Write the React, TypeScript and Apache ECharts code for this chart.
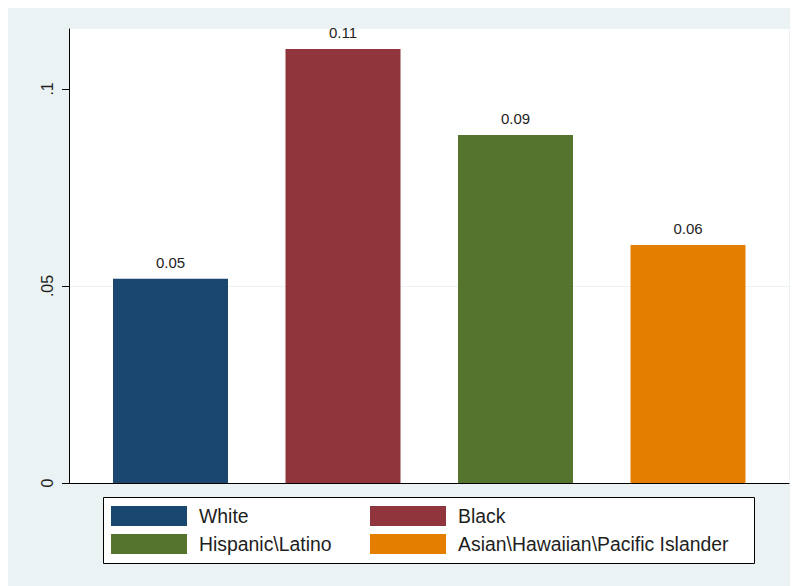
import React, { useEffect, useRef } from "react";
import * as echarts from "echarts";

const categories = ["White", "Black", "Hispanic\\Latino", "Asian\\Hawaiian\\Pacific Islander"];
const values = [0.0518, 0.1101, 0.0883, 0.0604];
const colors = ["#1a476f", "#90353b", "#55752f", "#e37e00"];
const yTickValues = [0, 0.05, 0.1];
const yTickLabels = ["0", ".05", ".1"];
const yMax = 0.1152;

const FONT = "'Liberation Sans', Arial, Helvetica, sans-serif";

export default function App() {
  const ref = useRef<HTMLDivElement>(null);
  useEffect(() => {
    if (!ref.current) return;
    const chart = echarts.init(ref.current, undefined, { renderer: "svg" });
    const series = categories.map((name, i) => ({
      name,
      type: "bar",
      xAxisIndex: 1,
      yAxisIndex: 1,
      stack: "all",
      barWidth: 115,
      itemStyle: { color: colors[i] },
      label: {
        show: true,
        position: "top",
        distance: 9,
        fontFamily: FONT,
        fontSize: 15,
        color: "#1e1e1e",
        formatter: (p: any) => Number(p.value).toFixed(2),
      },
      data: categories.map((_, j) => (j === i ? values[i] : "-")),
    }));
    chart.setOption({
      animation: false,
      textStyle: { fontFamily: FONT },
      grid: [
        { left: 61, top: 21, width: 720, height: 454, show: true, backgroundColor: "#ffffff", borderWidth: 0 },
        { left: 76.25, top: 21, width: 690, height: 454 },
      ],
      xAxis: [
        {
          gridIndex: 0,
          type: "value",
          min: 0,
          max: 1,
          axisLine: { show: true, lineStyle: { color: "#000", width: 1 } },
          axisTick: { show: false },
          axisLabel: { show: false },
          splitLine: { show: false },
        },
        {
          gridIndex: 1,
          type: "category",
          data: categories,
          show: false,
        },
      ],
      yAxis: [
        {
          gridIndex: 0,
          type: "value",
          min: 0,
          max: yMax,
          interval: 0.05,
          axisLine: { show: true, lineStyle: { color: "#000", width: 1 } },
          axisTick: { show: true, length: 7, customValues: yTickValues, lineStyle: { color: "#000" } },
          axisLabel: {
            customValues: yTickValues,
            rotate: 90,
            margin: 14,
            fontSize: 16,
            color: "#1e1e1e",
            fontFamily: FONT,
            formatter: (v: number) => yTickLabels[yTickValues.indexOf(v)] ?? "",
          },
          splitLine: { show: true, showMinLine: false, showMaxLine: false, lineStyle: { color: "#eaf2f3", width: 1 } },
        },
        {
          gridIndex: 1,
          type: "value",
          min: 0,
          max: yMax,
          show: false,
          splitLine: { show: false },
        },
      ],
      legend: [
        {
          data: [categories[0], categories[2]],
          orient: "vertical",
          left: 103,
          top: 498,
          padding: 0,
          itemWidth: 76,
          itemHeight: 20,
          itemGap: 8,
          icon: "rect",
          z: 5,
          textStyle: { fontSize: 19.4, color: "#1e1e1e", fontFamily: FONT, padding: [0, 0, 0, 7] },
        },
        {
          data: [categories[1], categories[3]],
          orient: "vertical",
          left: 362,
          top: 498,
          padding: 0,
          itemWidth: 76,
          itemHeight: 20,
          itemGap: 8,
          icon: "rect",
          z: 5,
          textStyle: { fontSize: 19.4, color: "#1e1e1e", fontFamily: FONT, padding: [0, 0, 0, 7] },
        },
      ],
      graphic: [
        {
          type: "rect",
          z: 1,
          shape: { x: 95.5, y: 489.5, width: 651, height: 66 },
          style: { fill: "#ffffff", stroke: "#000000", lineWidth: 1 },
        },
      ],
      series,
    });
    return () => chart.dispose();
  }, []);
  return (
    <div
      ref={ref}
      style={{ width: 790, height: 578, background: "#eaf2f3" }}
    />
  );
}
